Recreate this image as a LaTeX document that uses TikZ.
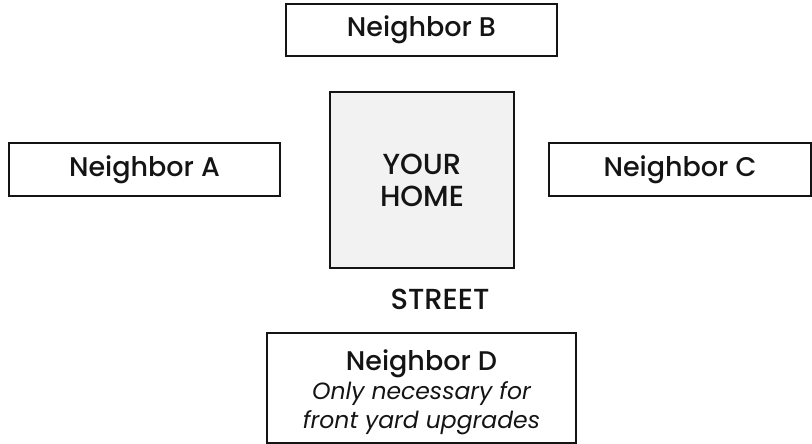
\documentclass[tikz,border=0pt]{standalone}
\usepackage{fontspec}
\setmainfont{Poppins}[UprightFont={* Medium}, ItalicFont={* Italic}]
\definecolor{homegray}{RGB}{242, 242, 242}
\definecolor{inkblack}{RGB}{20, 20, 20}
\usetikzlibrary{positioning}

\tikzset{
  lot/.style={draw=inkblack, line width=1.5pt, text=inkblack, align=center,
    inner sep=0pt, minimum height=52pt, font=\fontsize{27}{29}\selectfont},
  caps text/.style={text=inkblack, align=center, font=\fontsize{29}{32}\selectfont}
}

\begin{document}
\begin{tikzpicture}[x=1pt, y=-1pt]
  \useasboundingbox (0,0) rectangle (812,444);

  % the home in the middle
  \node[lot, caps text, fill=homegray, minimum width=184pt, minimum height=176pt] (home) at (422, 180) {YOUR\\HOME};

  % the neighbours around it
  \node[lot, minimum width=271pt] (nbB) at (421.5, 30) {Neighbor B};
  \node[lot, minimum width=271pt, minimum height=53pt] (nbA) at (144.5, 169.5) {Neighbor A};
  \node[lot, minimum width=262pt, minimum height=53pt] (nbC) at (680, 169.5) {Neighbor C};

  \node[caps text] (street) at (440, 299) {STREET};

  \node[lot, minimum width=309pt, minimum height=110pt] (nbD) at (421.5, 388) {};
  \node[text=inkblack, align=center, font=\fontsize{27}{29}\selectfont] (nbDtext) at (421.5, 392) {
    Neighbor D\\
    {\itshape\fontsize{23.5}{29}\selectfont Only necessary for}\\
    {\itshape\fontsize{23.5}{29}\selectfont front yard upgrades}
  };
\end{tikzpicture}
\end{document}
